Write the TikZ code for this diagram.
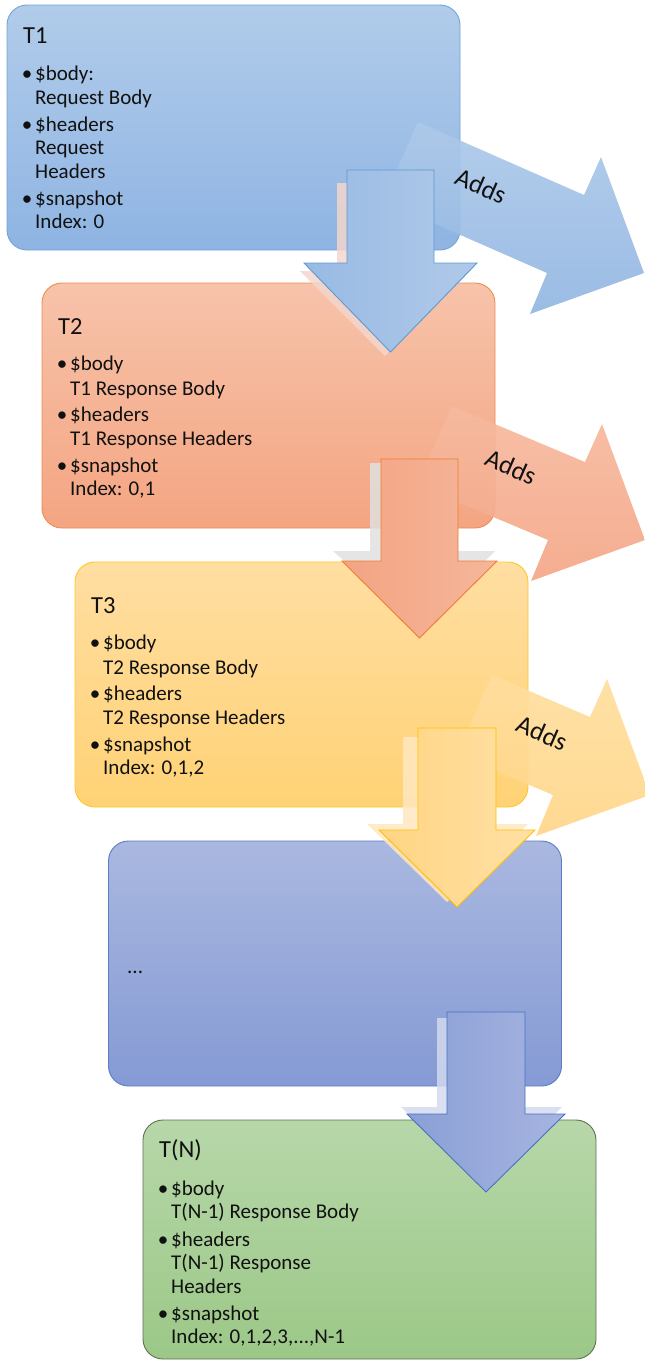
\documentclass[tikz,border=0pt]{standalone}
\usepackage{fontspec}
\setmainfont{Carlito}
\usetikzlibrary{calc}
\definecolor{bAtop}{HTML}{B1CCEA}\definecolor{bAbot}{HTML}{8FB4E3}\definecolor{bAline}{HTML}{72A2D8}
\definecolor{bBtop}{HTML}{F7C3AA}\definecolor{bBbot}{HTML}{F4A582}\definecolor{bBline}{HTML}{EE8B55}
\definecolor{bCtop}{HTML}{FFDEA2}\definecolor{bCbot}{HTML}{FFD275}\definecolor{bCline}{HTML}{FFC52A}
\definecolor{bDtop}{HTML}{AAB8E0}\definecolor{bDbot}{HTML}{859AD4}\definecolor{bDline}{HTML}{5A7DC8}
\definecolor{bEtop}{HTML}{B7D7A9}\definecolor{bEbot}{HTML}{9BC887}\definecolor{bEline}{HTML}{607055}
\definecolor{aAtop}{HTML}{ADC9E9}\definecolor{aAbot}{HTML}{92B6E2}
\definecolor{aBtop}{HTML}{F6BA9F}\definecolor{aBbot}{HTML}{F4A687}
\definecolor{aCtop}{HTML}{FFDE9E}\definecolor{aCbot}{HTML}{FFD689}
\definecolor{dAl}{HTML}{98BAE3}\definecolor{dAr}{HTML}{B0C9E9}\definecolor{dAline}{HTML}{5B9BD5}
\definecolor{dBl}{HTML}{F3A482}\definecolor{dBr}{HTML}{F5B69B}\definecolor{dBline}{HTML}{ED7D31}
\definecolor{dCl}{HTML}{FFD583}\definecolor{dCr}{HTML}{FFE0A5}\definecolor{dCline}{HTML}{FFC000}
\definecolor{dDl}{HTML}{8A9FD6}\definecolor{dDr}{HTML}{A7B4E0}\definecolor{dDline}{HTML}{4472C4}
\definecolor{shA}{HTML}{F3D6CC}\definecolor{shB}{HTML}{E0E0E0}\definecolor{shC}{HTML}{FFE7C0}\definecolor{shD}{HTML}{D3D9EE}
\definecolor{ink}{HTML}{111111}
\newcommand\tline[4]{\node[txt] (#1) at (#2,#3) {#4};}
\newcommand\bdot[3]{\node[bul] (#1) at (#2,#3) {\textbullet};}
\begin{document}
\begin{tikzpicture}[x=1pt,y=-1pt,
  tbox/.style={draw, line width=0.9pt, rounded corners=20pt, minimum width=453pt, minimum height=245pt, inner sep=0pt, outer sep=0pt},
  txt/.style={anchor=base west, inner sep=0pt, text=ink, font=\fontsize{21}{24}\selectfont},
  bul/.style={anchor=base, inner sep=0pt, text=ink, font=\fontsize{21}{24}\selectfont},
  ttl/.style={anchor=base west, inner sep=0pt, text=ink, font=\fontsize{24.5}{28}\selectfont},
  addsarrow/.style={fill opacity=0.92},
  addslabel/.style={inner sep=0pt, text=ink, rotate=-23.6, font=\fontsize{26}{30}\selectfont},
  downarrow/.style={line width=0.9pt, line join=miter},
  shadowarrow/.style={fill opacity=0.85}]
\useasboundingbox (0,0) rectangle (645,1361);
\clip (0,0) rectangle (645,1361);
% boxes
\node[tbox, draw=bAline, top color=bAtop, bottom color=bAbot] (b1) at (233.5,127.5) {};
\node[tbox, draw=bBline, top color=bBtop, bottom color=bBbot] (b2) at (268.5,405.5) {};
\node[tbox, draw=bCline, top color=bCtop, bottom color=bCbot] (b3) at (301.5,684.5) {};
\node[tbox, draw=bDline, top color=bDtop, bottom color=bDbot] (b4) at (335,963.5) {};
\node[tbox, draw=bEline, top color=bEtop, bottom color=bEbot, minimum height=239pt] (b5) at (369.5,1239.5) {};
% texts T1
\node[ttl] (t1) at (23,43) {T1};
\bdot{t1a}{27}{80}\tline{t1b}{35}{80}{\$body:}
\tline{t1c}{35}{104}{Request Body}
\bdot{t1d}{27}{131}\tline{t1e}{35}{131}{\$headers}
\tline{t1f}{35}{154}{Request}
\tline{t1g}{35}{178}{Headers}
\bdot{t1h}{27}{205}\tline{t1i}{35}{205}{\$snapshot}
\tline{t1j}{35}{228}{Index: 0}
% T2
\node[ttl] (t2) at (58,334) {T2};
\bdot{t2a}{62}{370}\tline{t2b}{70}{370}{\$body}
\tline{t2c}{70}{395}{T1 Response Body}
\bdot{t2d}{62}{421}\tline{t2e}{70}{421}{\$headers}
\tline{t2f}{70}{445}{T1 Response Headers}
\bdot{t2h}{62}{472}\tline{t2i}{70}{472}{\$snapshot}
\tline{t2j}{70}{495}{Index: 0,1}
% T3
\node[ttl] (t3) at (91,613) {T3};
\bdot{t3a}{95}{649}\tline{t3b}{103}{649}{\$body}
\tline{t3c}{103}{674}{T2 Response Body}
\bdot{t3d}{95}{700}\tline{t3e}{103}{700}{\$headers}
\tline{t3f}{103}{724}{T2 Response Headers}
\bdot{t3h}{95}{751}\tline{t3i}{103}{751}{\$snapshot}
\tline{t3j}{103}{774}{Index: 0,1,2}
% T4
\tline{t4}{127}{973}{...}
% TN
\node[ttl] (tn) at (159,1157) {T(N)};
\bdot{tna}{163}{1195}\tline{tnb}{171}{1195}{\$body}
\tline{tnc}{171}{1218}{T(N-1) Response Body}
\bdot{tnd}{163}{1246}\tline{tne}{171}{1246}{\$headers}
\tline{tnf}{171}{1269}{T(N-1) Response}
\tline{tng}{171}{1293}{Headers}
\bdot{tnh}{163}{1320}\tline{tni}{171}{1320}{\$snapshot}
\tline{tnj}{171}{1343}{Index: 0,1,2,3,...,N-1}
% Adds arrows
\path[addsarrow, top color=aAtop, bottom color=aAbot] (418,122) -- (584,195) -- (601,157) -- (644,273) -- (530,314) -- (547,273) -- (383,201) -- cycle;
\path[addsarrow, top color=aBtop, bottom color=aBbot] (452,406) -- (585,462) -- (602,424) -- (645,540) -- (531,581) -- (548,540) -- (417,485) -- cycle;
\path[addsarrow, top color=aCtop, bottom color=aCbot] (492,675) -- (590,717) -- (607,679) -- (650,795) -- (536,836) -- (553,795) -- (457,754) -- cycle;
\node[addslabel] (adds1) at (481,186) {Adds};
\node[addslabel] (adds2) at (511,467) {Adds};
\node[addslabel] (adds3) at (542,733) {Adds};
% shadows
\path[shadowarrow, fill=shA] (337,183) -- (420,183) -- (420,271) -- (470,271) -- (385,356) -- (300,271) -- (337,271) -- cycle;
\path[shadowarrow, fill=shB] (370,463) -- (450,463) -- (450,551) -- (495,551) -- (419,628) -- (333,551) -- (370,551) -- cycle;
\path[shadowarrow, fill=shC] (403,737) -- (485,737) -- (485,824) -- (528,824) -- (447,902) -- (367,824) -- (403,824) -- cycle;
\path[shadowarrow, fill=shD] (437,1018) -- (515,1018) -- (515,1107) -- (562,1107) -- (482,1186) -- (401,1107) -- (437,1107) -- cycle;
% down arrows
\path[downarrow, draw=dAline, left color=dAl, right color=dAr] (347,170) -- (434,170) -- (434,263) -- (477,263) -- (390.5,352) -- (304,263) -- (347,263) -- cycle;
\path[downarrow, draw=dBline, left color=dBl, right color=dBr] (381,459) -- (458,459) -- (458,561) -- (497,561) -- (419.5,638) -- (342,561) -- (381,561) -- cycle;
\path[downarrow, draw=dCline, left color=dCl, right color=dCr] (418,728) -- (496,728) -- (496,830) -- (535,830) -- (457,907) -- (379,830) -- (418,830) -- cycle;
\path[downarrow, draw=dDline, left color=dDl, right color=dDr] (447,1012) -- (525,1012) -- (525,1114) -- (565,1114) -- (486,1192) -- (407,1114) -- (447,1114) -- cycle;
\end{tikzpicture}
\end{document}
